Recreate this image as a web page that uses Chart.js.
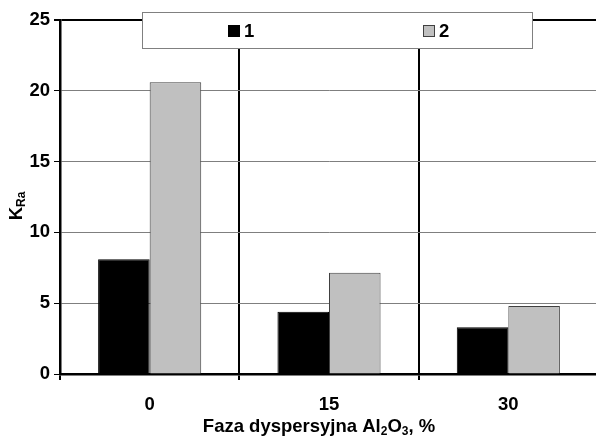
<!DOCTYPE html>
<html>
<head>
<meta charset="utf-8">
<script src="https://cdn.jsdelivr.net/npm/chart.js@4.4.1/dist/chart.umd.min.js"></script>
<style>
  html, body { margin: 0; padding: 0; background: #fff; overflow: hidden; }
  #wrap { position: relative; width: 600px; height: 438px; }
</style>
</head>
<body>
<div id="wrap"><canvas id="chart" width="600" height="438"></canvas></div>
<script>
// Content of Al2O3 dispersed phase, %
const categories = ['0', '15', '30'];
const seriesLabels = ['1', '2'];
// K_Ra values for both series
const series1 = [8.1, 4.4, 3.3];
const series2 = [20.6, 7.15, 4.8];
// Value axis range
const yMin = 0;
const yMax = 25;
const yStep = 5;

const FONT = "'Liberation Sans', Arial, Helvetica, sans-serif";
const SIZE = 18.5;
const SUB = 12;

// Axis titles with subscripts, and the boxed legend overlaid on the plot
const decorations = {
  id: 'decorations',
  afterDraw(chart) {
    const ctx = chart.ctx;
    ctx.save();
    ctx.fillStyle = '#000';
    ctx.textBaseline = 'alphabetic';
    const big = 'bold ' + SIZE + 'px ' + FONT;
    const small = 'bold ' + SUB + 'px ' + FONT;

    // y-axis title: K with subscript Ra
    ctx.save();
    ctx.translate(22, 206);
    ctx.rotate(-Math.PI / 2);
    ctx.font = big; const wK = ctx.measureText('K').width;
    ctx.font = small; const wRa = ctx.measureText('Ra').width;
    let x = -(wK + wRa) / 2;
    ctx.font = big; ctx.fillText('K', x, 0); x += wK;
    ctx.font = small; ctx.fillText('Ra', x, 3);
    ctx.restore();

    // x-axis title: Faza dyspersyjna Al2O3, %
    const parts = [
      ['Faza dyspersyjna Al', false], ['2', true], ['O', false], ['3', true], [', %', false]
    ];
    let total = 0;
    parts.forEach(p => { ctx.font = p[1] ? small : big; total += ctx.measureText(p[0]).width; });
    let tx = 319 - total / 2;
    parts.forEach(p => {
      ctx.font = p[1] ? small : big;
      ctx.fillText(p[0], tx, p[1] ? 435 : 432);
      tx += ctx.measureText(p[0]).width;
    });

    // legend box
    const bx = 142, by = 12, bw = 390, bh = 36;
    ctx.fillStyle = '#fff';
    ctx.fillRect(bx, by, bw, bh);
    ctx.strokeStyle = '#808080';
    ctx.lineWidth = 1;
    ctx.strokeRect(bx + 0.5, by + 0.5, bw, bh);
    const itemX = [228, 423];
    chart.data.datasets.forEach((ds, i) => {
      const sx = itemX[i];
      ctx.fillStyle = ds.backgroundColor;
      ctx.fillRect(sx, 25, 11, 11);
      ctx.strokeStyle = ds.borderColor;
      ctx.strokeRect(sx + 0.5, 25.5, 11, 11);
      ctx.fillStyle = '#000';
      ctx.font = big;
      ctx.fillText(ds.label, sx + 16, 37);
    });
    ctx.restore();
  }
};

new Chart(document.getElementById('chart'), {
  type: 'bar',
  data: {
    labels: categories,
    datasets: [
      { label: seriesLabels[0], data: series1, backgroundColor: '#000000', borderColor: '#000000', borderWidth: 1 },
      { label: seriesLabels[1], data: series2, backgroundColor: '#c0c0c0', borderColor: '#404040', borderWidth: 1 }
    ]
  },
  options: {
    responsive: false,
    animation: false,
    events: [],
    layout: { padding: { top: 20, right: 2, left: 0, bottom: 0 } },
    datasets: { bar: { categoryPercentage: 0.575, barPercentage: 1.0 } },
    plugins: { legend: { display: false }, tooltip: { enabled: false }, title: { display: false } },
    scales: {
      x: {
        afterFit(scale) { scale.height = 64; },
        grid: { offset: true, color: '#000', lineWidth: 2, tickLength: 6, tickColor: '#000' },
        border: { color: '#000', width: 2.5 },
        ticks: { color: '#000', padding: 14, font: { family: FONT, size: SIZE, weight: 'bold' } }
      },
      y: {
        min: yMin, max: yMax,
        afterFit(scale) { scale.width = 60; },
        grid: {
          color: ctx => ctx.tick && ctx.tick.value === yMax ? '#000' : '#7f7f7f',
          lineWidth: ctx => ctx.tick && ctx.tick.value === yMax ? 2 : 1,
          tickLength: 6, tickColor: '#000'
        },
        border: { color: '#000', width: 2.5 },
        ticks: { stepSize: yStep, color: '#000', padding: 4, font: { family: FONT, size: SIZE, weight: 'bold' } }
      }
    }
  },
  plugins: [decorations]
});
</script>
</body>
</html>
